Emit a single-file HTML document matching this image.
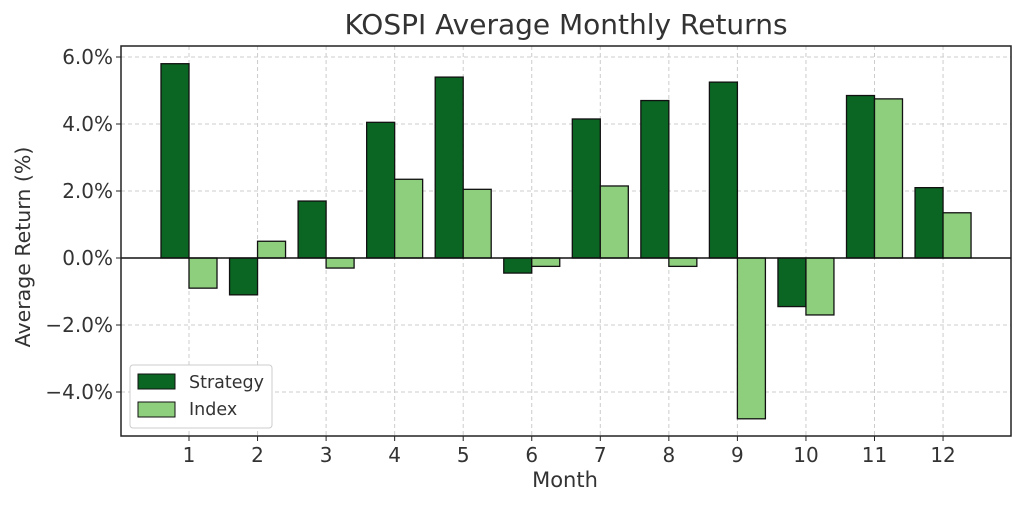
<!DOCTYPE html>
<html><head><meta charset="utf-8"><style>
body{margin:0;background:#fff}
svg text{font-family:"DejaVu Sans","Liberation Sans",sans-serif;fill:#333}
</style></head><body>
<svg width="1024" height="505" xmlns="http://www.w3.org/2000/svg">
<rect width="1024" height="505" fill="#fff"/>
<g id="grid" stroke="#ccc" stroke-dasharray="4,3" stroke-width="1"></g>
<g id="bars" stroke="#111" stroke-width="1.3"></g>
<line x1="121" x2="1011" y1="258" y2="258" stroke="#111" stroke-width="1.5"/>
<rect x="121" y="46" width="890" height="390" fill="none" stroke="#222" stroke-width="1.5"/>
<g id="ticks" font-size="20"></g>
<text x="566" y="34" font-size="28" text-anchor="middle">KOSPI Average Monthly Returns</text>
<text x="565" y="487" font-size="21" text-anchor="middle">Month</text>
<text transform="translate(30,247) rotate(-90)" font-size="20.5" text-anchor="middle">Average Return (%)</text>
<rect x="130" y="365" width="142" height="63" fill="#fff" stroke="#ccc" rx="3"/>
<rect x="138" y="374" width="37" height="15" fill="#0b6623" stroke="#111"/>
<rect x="138" y="402" width="37" height="15" fill="#8ecf7e" stroke="#111"/>
<text x="189" y="388" font-size="17.5">Strategy</text>
<text x="189" y="415" font-size="17.5">Index</text>
</svg>
<script>
const S=[5.8,-1.1,1.7,4.05,5.4,-0.45,4.15,4.7,5.25,-1.45,4.85,2.1];
const I=[-0.9,0.5,-0.3,2.35,2.05,-0.25,2.15,-0.25,-4.8,-1.7,4.75,1.35];
const y=v=>258-v*33.5, ns="http://www.w3.org/2000/svg";
const g=document.getElementById('grid'),b=document.getElementById('bars'),t=document.getElementById('ticks');
function el(p,n,a,txt){const e=document.createElementNS(ns,n);for(k in a)e.setAttribute(k,a[k]);if(txt)e.textContent=txt;p.appendChild(e);}
for(let i=0;i<12;i++){const x=189+i*68.55;
el(g,'line',{x1:x,x2:x,y1:46,y2:436});
el(t,'line',{x1:x,x2:x,y1:436,y2:441,stroke:'#222'});
el(t,'text',{x:x,y:462,'text-anchor':'middle'},String(i+1));
[[S[i],x-28,'#0b6623'],[I[i],x,'#8ecf7e']].forEach(([v,xx,c])=>{const a=y(v);el(b,'rect',{x:xx,y:Math.min(a,258),width:28,height:Math.abs(a-258),fill:c});});
}
for(let v=-4;v<=6;v+=2){const yy=y(v);
el(g,'line',{x1:121,x2:1011,y1:yy,y2:yy});
el(t,'line',{x1:116,x2:121,y1:yy,y2:yy,stroke:'#222'});
el(t,'text',{x:113,y:yy+7,'text-anchor':'end'},(v<0?'\u2212':'')+Math.abs(v).toFixed(1)+'%');
}
</script>
</body></html>
